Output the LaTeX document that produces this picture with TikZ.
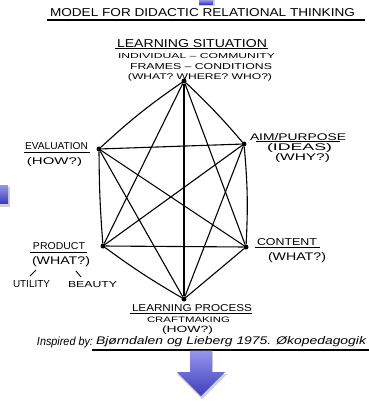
\documentclass[tikz,border=0pt]{standalone}
\usepackage{fontspec}
\setmainfont{Liberation Sans}
\usepackage{graphicx}
\newcommand{\hw}[3]{\resizebox{#1pt}{#2pt}{#3}}
\definecolor{blueA}{RGB}{150,150,238}
\definecolor{blueB}{RGB}{62,62,188}
\begin{document}
\begin{tikzpicture}[x=1pt,y=-1pt,
  lbl/.style={inner sep=0pt,outer sep=0pt,anchor=west},
  dotnode/.style={circle,fill=black,inner sep=0pt,minimum size=5pt},
  edge/.style={line width=1.1pt,black},
  uline/.style={line width=0.9pt,black},
  bluearrow/.style={top color=blueA,bottom color=blueB,draw=none},
  shadowshape/.style={fill=black,opacity=0.18,draw=none}]
\useasboundingbox (0,0) rectangle (369,408);
\fill[white] (0,0) rectangle (369,408);

% blue fragments
\fill[shadowshape] (199,0) rectangle (215,6);
\fill[bluearrow] (199,0) rectangle (213,4);
\fill[shadowshape] (0,187) rectangle (10,207);
\fill[bluearrow] (0,185) rectangle (8,203);

% title
\node[lbl] (title) at (50,13) {\hw{305}{8}{MODEL FOR DIDACTIC RELATIONAL THINKING}};
\draw[line width=1.3pt] (47,20) -- (365,20);

% dots
\node[dotnode] (S) at (184,81) {};
\node[dotnode] (E) at (99,149) {};
\node[dotnode] (A) at (244,144) {};
\node[dotnode] (P) at (103,246) {};
\node[dotnode] (C) at (246,247) {};
\node[dotnode] (L) at (184,299) {};

% edges
\draw[edge] (S) to[bend right=4] (E);
\draw[edge] (S) to[bend left=3] (A);
\draw[edge] (S) -- (P);
\draw[edge] (S) -- (C);
\draw[edge] (S) -- (L);
\draw[edge] (E) -- (A);
\draw[edge] (E) to[bend right=2] (P);
\draw[edge] (E) -- (C);
\draw[edge] (E) -- (L);
\draw[edge] (A) -- (P);
\draw[edge] (A) to[bend left=4] (C);
\draw[edge] (A) -- (L);
\draw[edge] (P) -- (C);
\draw[edge] (P) to[bend right=3] (L);
\draw[edge] (C) -- (L);

% Learning situation
\node[lbl] (ls) at (117,44) {\hw{150}{8}{LEARNING SITUATION}};
\draw[uline] (115,48.5) -- (268,48.5);
\node[lbl] (ls2) at (118,56) {\hw{157}{5}{INDIVIDUAL – COMMUNITY}};
\node[lbl] (ls3) at (130,67) {\hw{142}{6}{FRAMES – CONDITIONS}};
\node[lbl] (ls4) at (128,77.5) {\hw{144}{6}{(WHAT? WHERE? WHO?)}};

% Evaluation
\node[lbl] (ev) at (25,146.5) {\hw{63}{7}{EVALUATION}};
\draw[uline] (24,152.5) -- (90,152.5);
\node[lbl] (ev2) at (27,162) {\hw{55}{7}{(HOW?)}};

% Aim / Purpose
\node[lbl] (ai) at (250,137) {\hw{96}{7}{AIM/PURPOSE}};
\draw[uline] (256,141.5) -- (340,141.5);
\node[lbl] (ai2) at (267,147.5) {\hw{65}{7}{(IDEAS)}};
\node[lbl] (ai3) at (275,158) {\hw{55}{7}{(WHY?)}};

% Product
\node[lbl] (pr) at (33,246) {\hw{52}{7}{PRODUCT}};
\draw[uline] (30,252) -- (87,252);
\node[lbl] (pr2) at (32,261.5) {\hw{58}{8}{(WHAT?)}};
\draw[uline] (36,270) -- (30,276);
\draw[uline] (76,271) -- (81,277);
\node[lbl] (ut) at (13,284) {\hw{37}{7}{UTILITY}};
\node[lbl] (be) at (68,285) {\hw{49}{6}{BEAUTY}};

% Content
\node[lbl] (co) at (257,242) {\hw{60}{7}{CONTENT}};
\draw[uline] (255,247.5) -- (320,247.5);
\node[lbl] (co2) at (268,258) {\hw{58}{8}{(WHAT?)}};

% Learning process
\node[lbl] (lp) at (132,308.5) {\hw{120}{7}{LEARNING PROCESS}};
\draw[uline] (130,313.5) -- (252,313.5);
\node[lbl] (lp2) at (147,320) {\hw{83}{5.5}{CRAFTMAKING}};
\node[lbl] (lp3) at (162,330) {\hw{51}{6.5}{(HOW?)}};

% inspired
\node[lbl] (in) at (37,342) {\hw{56}{8.5}{\itshape Inspired by:}};
\node[lbl] (in2) at (96,342) {\hw{270}{8}{\itshape Bjørndalen og Lieberg 1975. Økopedagogik}};
\draw[line width=1.1pt] (92,350) -- (369,350);

% bottom arrow
\fill[shadowshape] (191,352) -- (213,352) -- (213,374) -- (227,374) -- (202,399) -- (177,374) -- (190,374) -- cycle;
\shade[bluearrow] (190,350.5) -- (212,350.5) -- (212,372) -- (225,372) -- (201,396) -- (177,372) -- (190,372) -- cycle;
\end{tikzpicture}
\end{document}
